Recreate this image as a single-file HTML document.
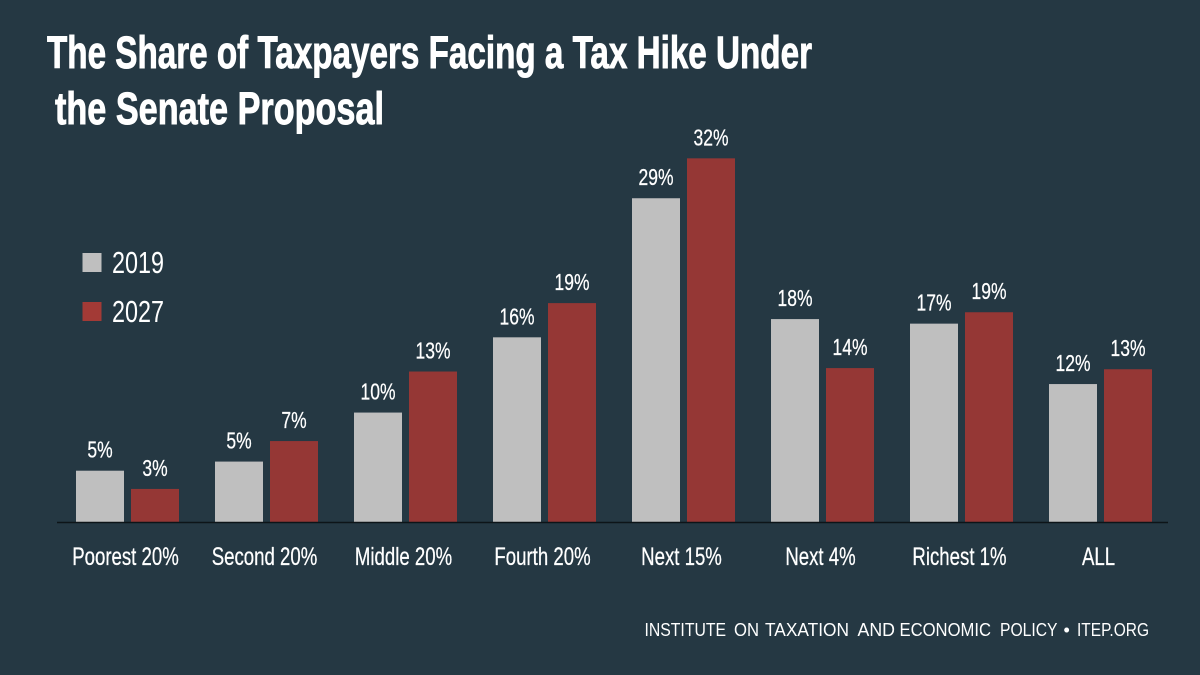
<!DOCTYPE html>
<html lang="en">
<head>
<meta charset="utf-8">
<title>The Share of Taxpayers Facing a Tax Hike Under the Senate Proposal</title>
<style>
  html, body { margin: 0; padding: 0; background: #253843; }
  svg { display: block; font-family: "Liberation Sans", sans-serif; }
</style>
</head>
<body>
<svg id="chart" xmlns="http://www.w3.org/2000/svg" width="1200" height="675" viewBox="0 0 1200 675">
  <rect width="1200" height="675" fill="#253843"/>
  <text x="47" y="68" font-size="45" font-weight="700" fill="#ffffff" stroke="#ffffff" stroke-width="0.9" textLength="765" lengthAdjust="spacingAndGlyphs">The Share of Taxpayers Facing a Tax Hike Under</text>
  <text x="55" y="124" font-size="45" font-weight="700" fill="#ffffff" stroke="#ffffff" stroke-width="0.9" textLength="329" lengthAdjust="spacingAndGlyphs">the Senate Proposal</text>
  <g>
    <rect x="82.5" y="253" width="19" height="19" fill="#bfbfbf"/>
    <text x="112" y="273" font-size="31" fill="#ffffff" textLength="52" lengthAdjust="spacingAndGlyphs">2019</text>
    <rect x="82.5" y="302" width="19" height="19" fill="#a33a36"/>
    <text x="112" y="322" font-size="31" fill="#ffffff" textLength="52" lengthAdjust="spacingAndGlyphs">2027</text>
  </g>
  <g id="bars"></g>
  <g id="value-labels"></g>
  <line x1="57" x2="1168" y1="522.5" y2="522.5" stroke="#0d1418" stroke-width="1.5"/>
  <g id="category-labels"></g>
  <g font-size="18" fill="#ffffff">
    <text x="644.5" y="636" textLength="81.5" lengthAdjust="spacingAndGlyphs">INSTITUTE</text>
    <text x="734" y="636" textLength="25" lengthAdjust="spacingAndGlyphs">ON</text>
    <text x="765" y="636" textLength="84" lengthAdjust="spacingAndGlyphs">TAXATION</text>
    <text x="857.5" y="636" textLength="37.5" lengthAdjust="spacingAndGlyphs">AND</text>
    <text x="899.5" y="636" textLength="91.5" lengthAdjust="spacingAndGlyphs">ECONOMIC</text>
    <text x="1000" y="636" textLength="57.5" lengthAdjust="spacingAndGlyphs">POLICY</text>
    <text x="1063.5" y="636">•</text>
    <text x="1077" y="636" textLength="72" lengthAdjust="spacingAndGlyphs">ITEP.ORG</text>
  </g>
</svg>
<script>
const categories = ["Poorest 20%", "Second 20%", "Middle 20%", "Fourth 20%", "Next 15%", "Next 4%", "Richest 1%", "ALL"];
const values2019 = [4.5, 5.3, 9.6, 16.2, 28.4, 17.8, 17.4, 12.1];
const values2027 = [2.9, 7.1, 13.2, 19.2, 31.9, 13.5, 18.4, 13.4];
const printed2019 = ["5%", "5%", "10%", "16%", "29%", "18%", "17%", "12%"];
const printed2027 = ["3%", "7%", "13%", "19%", "32%", "14%", "19%", "13%"];

const NS = "http://www.w3.org/2000/svg";
const baseY = 522;
const pxPerPoint = 11.4;
const firstBandCenter = 127.5;
const bandStep = 139;
const barWidth = 48;
const barOffset = 3.5;

function yScale(v) { return baseY - v * pxPerPoint; }
function xBand(i) { return firstBandCenter + i * bandStep; }

const barsGroup = document.getElementById("bars");
const valueGroup = document.getElementById("value-labels");
const categoryGroup = document.getElementById("category-labels");

function makeBar(x, v, fill) {
  const r = document.createElementNS(NS, "rect");
  r.setAttribute("x", x);
  r.setAttribute("y", yScale(v));
  r.setAttribute("width", barWidth);
  r.setAttribute("height", baseY - yScale(v));
  r.setAttribute("fill", fill);
  barsGroup.appendChild(r);
  return r;
}

function makeText(parent, str, cx, baseline, size, sx) {
  const t = document.createElementNS(NS, "text");
  t.setAttribute("transform", "translate(" + cx + " " + baseline + ") scale(" + sx + " 1)");
  t.setAttribute("text-anchor", "middle");
  t.setAttribute("font-size", size);
  t.setAttribute("fill", "#ffffff");
  t.setAttribute("stroke", "#ffffff");
  t.setAttribute("stroke-width", "0.25");
  t.textContent = str;
  parent.appendChild(t);
  return t;
}

categories.forEach(function (cat, i) {
  const c = xBand(i);
  const grayX = c - barOffset - barWidth;
  const redX = c + barOffset;

  const grayBar = makeBar(grayX, values2019[i], "#bfbfbf");
  
  

  const redBar = makeBar(redX, values2027[i], "#953735");
  
  

  const grayLabel = makeText(valueGroup, printed2019[i], grayX + barWidth / 2, yScale(values2019[i]) - 13, 23, 0.76);
  
  

  const redLabel = makeText(valueGroup, printed2027[i], redX + barWidth / 2, yScale(values2027[i]) - 13, 23, 0.76);
  
  

  const catLabel = makeText(categoryGroup, cat, c - 2, 565, 25, 0.745);
  
  
});
</script>
</body>
</html>
